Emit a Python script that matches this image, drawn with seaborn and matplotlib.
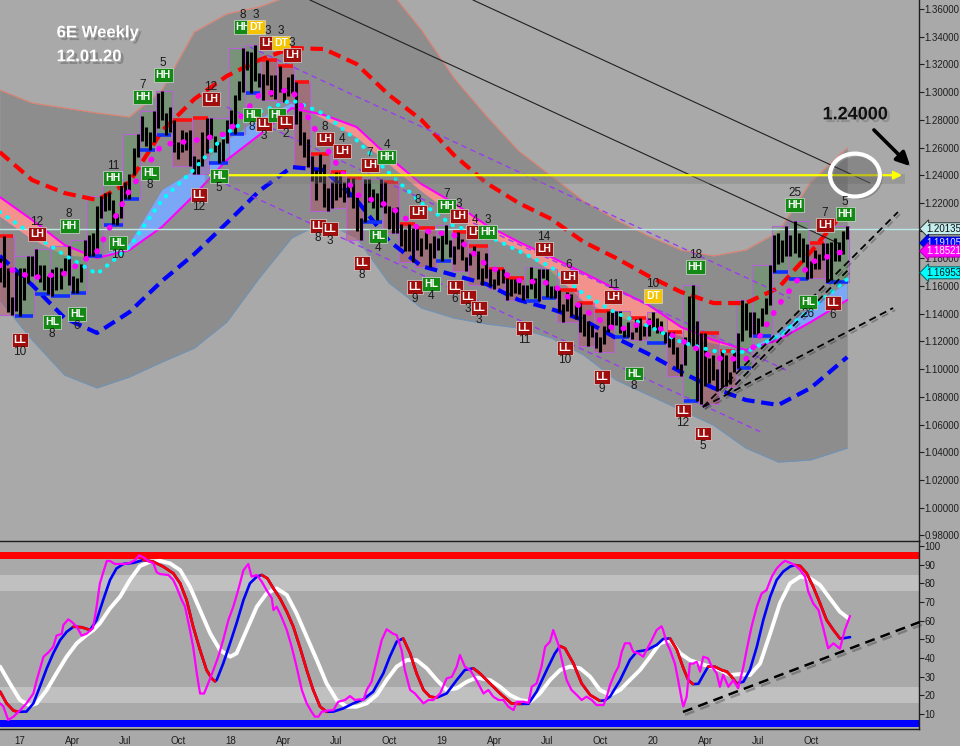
import numpy as np
import matplotlib
matplotlib.use("Agg")
import matplotlib.pyplot as plt
import matplotlib.patheffects as pe
from matplotlib.patches import Ellipse, Rectangle
import seaborn as sns

# weekly 6E bars, week 0 = week of 2 Jan 2017
first_week = -5
highs = [1.180, 1.196, 1.173, 1.152, 1.170, 1.173, 1.173, 1.182, 1.182, 1.187,
         1.175, 1.175, 1.167, 1.172, 1.174, 1.173, 1.180, 1.189, 1.167, 1.166,
         1.176, 1.193, 1.197, 1.198, 1.218, 1.225, 1.227, 1.228, 1.222, 1.212,
         1.237, 1.235, 1.241, 1.260, 1.270, 1.283, 1.275, 1.271, 1.286, 1.299,
         1.301, 1.285, 1.289, 1.280, 1.264, 1.273, 1.271, 1.273, 1.254, 1.252,
         1.271, 1.281, 1.281, 1.268, 1.264, 1.266, 1.280, 1.287, 1.298, 1.308,
         1.332, 1.330, 1.329, 1.334, 1.314, 1.313, 1.323, 1.312, 1.312, 1.319,
         1.303, 1.311, 1.313, 1.307, 1.286, 1.271, 1.266, 1.254, 1.244, 1.255,
         1.248, 1.231, 1.235, 1.242, 1.242, 1.235, 1.238, 1.238, 1.224, 1.209,
         1.237, 1.237, 1.230, 1.227, 1.237, 1.235, 1.218, 1.216, 1.217, 1.205,
         1.201, 1.205, 1.202, 1.202, 1.195, 1.199, 1.191, 1.196, 1.195, 1.197,
         1.204, 1.193, 1.189, 1.199, 1.194, 1.181, 1.184, 1.189, 1.185, 1.173,
         1.184, 1.172, 1.165, 1.172, 1.172, 1.166, 1.165, 1.165, 1.165, 1.161,
         1.161, 1.174, 1.166, 1.172, 1.172, 1.172, 1.160, 1.160, 1.157, 1.147,
         1.156, 1.154, 1.146, 1.148, 1.140, 1.135, 1.132, 1.127, 1.123, 1.131,
         1.142, 1.142, 1.142, 1.142, 1.130, 1.134, 1.127, 1.136, 1.137, 1.131,
         1.137, 1.141, 1.137, 1.135, 1.127, 1.127, 1.127, 1.116, 1.104, 1.123,
         1.153, 1.161, 1.135, 1.126, 1.126, 1.108, 1.110, 1.100, 1.113, 1.110,
         1.098, 1.112, 1.126, 1.150, 1.148, 1.141, 1.141, 1.137, 1.144, 1.151,
         1.175, 1.197, 1.198, 1.193, 1.203, 1.197, 1.207, 1.198, 1.195, 1.190,
         1.178, 1.186, 1.183, 1.191, 1.191, 1.192, 1.195, 1.192, 1.200, 1.203]
lows = [1.163, 1.159, 1.141, 1.139, 1.142, 1.138, 1.150, 1.162, 1.167, 1.166,
        1.163, 1.157, 1.154, 1.153, 1.157, 1.158, 1.171, 1.161, 1.155, 1.155,
        1.163, 1.180, 1.182, 1.182, 1.184, 1.209, 1.214, 1.215, 1.205, 1.204,
        1.209, 1.223, 1.223, 1.240, 1.253, 1.265, 1.261, 1.258, 1.264, 1.274,
        1.280, 1.269, 1.271, 1.257, 1.252, 1.257, 1.258, 1.247, 1.241, 1.241,
        1.247, 1.256, 1.267, 1.257, 1.249, 1.250, 1.263, 1.277, 1.270, 1.294,
        1.300, 1.316, 1.299, 1.308, 1.304, 1.294, 1.305, 1.297, 1.295, 1.300,
        1.293, 1.297, 1.299, 1.277, 1.262, 1.253, 1.246, 1.236, 1.222, 1.235,
        1.217, 1.214, 1.216, 1.222, 1.224, 1.221, 1.224, 1.216, 1.200, 1.193,
        1.206, 1.221, 1.216, 1.208, 1.217, 1.213, 1.201, 1.198, 1.198, 1.189,
        1.185, 1.185, 1.177, 1.186, 1.182, 1.187, 1.174, 1.180, 1.186, 1.178,
        1.190, 1.181, 1.176, 1.187, 1.179, 1.171, 1.175, 1.183, 1.165, 1.161,
        1.166, 1.160, 1.158, 1.161, 1.162, 1.150, 1.153, 1.155, 1.154, 1.150,
        1.151, 1.158, 1.151, 1.149, 1.166, 1.152, 1.151, 1.151, 1.141, 1.134,
        1.142, 1.138, 1.136, 1.127, 1.124, 1.117, 1.123, 1.115, 1.112, 1.118,
        1.127, 1.132, 1.132, 1.126, 1.123, 1.123, 1.122, 1.127, 1.121, 1.124,
        1.124, 1.130, 1.126, 1.126, 1.119, 1.116, 1.111, 1.100, 1.095, 1.103,
        1.118, 1.117, 1.077, 1.075, 1.088, 1.090, 1.092, 1.084, 1.087, 1.088,
        1.089, 1.098, 1.101, 1.120, 1.128, 1.123, 1.125, 1.124, 1.131, 1.140,
        1.146, 1.170, 1.176, 1.177, 1.182, 1.182, 1.184, 1.181, 1.177, 1.165,
        1.166, 1.172, 1.172, 1.179, 1.163, 1.164, 1.178, 1.178, 1.183, 1.194]

# indicator curves read every 8 weeks
grid_weeks = [-5, 3, 11, 19, 27, 35, 43, 51, 59, 67, 75, 83, 91, 99, 107, 115,
              123, 131, 139, 147, 155, 163, 171, 179, 187, 195, 204]
red_env = [1.2567, 1.2365, 1.2271, 1.2221, 1.2351, 1.2719, 1.2950, 1.3116, 1.3232,
           1.3318, 1.3311, 1.3203, 1.2979, 1.2799, 1.2546, 1.2344, 1.2199, 1.2084,
           1.1918, 1.1802, 1.1672, 1.1557, 1.1477, 1.1477, 1.1586, 1.1846, 1.2163]
blue_env = [1.1817, 1.1607, 1.1369, 1.1261, 1.1412, 1.1636, 1.1831, 1.2055, 1.2286,
            1.2459, 1.2437, 1.2221, 1.1925, 1.1744, 1.1679, 1.1614, 1.1499, 1.1434,
            1.1354, 1.1225, 1.1109, 1.0979, 1.0864, 1.0777, 1.0741, 1.0864, 1.1087]
band_top = [1.3015, 1.2921, 1.2885, 1.2849, 1.2820, 1.3015, 1.3434, 1.3564, 1.3614,
            1.3701, 1.3954, 1.3954, 1.3737, 1.3448, 1.3102, 1.2827, 1.2575, 1.2394,
            1.2214, 1.2077, 1.1961, 1.1860, 1.1817, 1.1860, 1.1990, 1.2351, 1.2596]
band_bot = [1.1499, 1.1210, 1.0957, 1.0864, 1.0943, 1.1051, 1.1152, 1.1340, 1.1658,
            1.1947, 1.2062, 1.1947, 1.1622, 1.1441, 1.1369, 1.1326, 1.1297, 1.1225,
            1.1102, 1.0921, 1.0813, 1.0705, 1.0596, 1.0430, 1.0329, 1.0344, 1.0430]
slow_ma = [1.2243, 1.2077, 1.1896, 1.1802, 1.1860, 1.2026, 1.2257, 1.2510, 1.2690,
           1.2885, 1.2835, 1.2748, 1.2531, 1.2336, 1.2199, 1.2040, 1.1918, 1.1809,
           1.1694, 1.1578, 1.1463, 1.1304, 1.1210, 1.1138, 1.1210, 1.1340, 1.1499]
fast_ma = [1.2098, 1.1932, 1.1817, 1.1802, 1.1910, 1.2293, 1.2438, 1.2654, 1.2813,
           1.2921, 1.2800, 1.2669, 1.2474, 1.2279, 1.2105, 1.1954, 1.1860, 1.1701,
           1.1484, 1.1376, 1.1304, 1.1232, 1.1181, 1.1138, 1.1261, 1.1456, 1.1622]
cyan_ma = [1.2134, 1.1975, 1.1824, 1.1687, 1.1882, 1.2221, 1.2445, 1.2705, 1.2856,
           1.2943, 1.2842, 1.2654, 1.2416, 1.2199, 1.2033, 1.1968, 1.1853, 1.1737,
           1.1542, 1.1405, 1.1311, 1.1196, 1.1131, 1.1123, 1.1239, 1.1434, 1.1650]
dot_ma = [1.175, 1.166, 1.169, 1.185, 1.229, 1.262, 1.265, 1.270, 1.298, 1.302,
          1.262, 1.226, 1.218, 1.200, 1.197, 1.175, 1.164, 1.162, 1.143, 1.128,
          1.134, 1.121, 1.108, 1.107, 1.146, 1.177, 1.186]

# swing boxes (start weeks)
box_starts = [-5, -1, 4, 8, 13, 17, 21, 26, 30, 34, 38, 43, 47, 52, 56, 60, 64, 68,
              72, 77, 81, 85, 90, 94, 98, 103, 107, 111, 116, 120, 125, 129, 133,
              138, 142, 147, 151, 155, 160, 164, 168, 173, 177, 181, 186, 190, 195,
              199, 205]

# swing labels
lab_week = [4.2, 12.1, 0.0, 7.9, 14.1, 22.9, 24.2, 30.3, 32.1, 35.3, 47.1, 44.1, 49.1,
            55.0, 58.2, 61.2, 64.4, 67.1, 57.2, 60.2, 63.4, 65.4, 75.2, 79.4, 86.3,
            90.5, 73.5, 76.4, 88.3, 84.3, 98.2, 105.3, 108.3, 112.2, 115.4, 97.4,
            101.4, 107.3, 110.5, 113.2, 124.3, 129.2, 135.4, 134.4, 143.5, 146.2,
            156.1, 151.4, 163.5, 168.4, 166.5, 194.3, 200.5, 191.1, 198.5, 203.5]
lab_price = [1.1975, 1.2033, 1.1210, 1.1340, 1.1398, 1.2380, 1.1910, 1.2965, 1.2416,
             1.3123, 1.2950, 1.2257, 1.2394, 1.3470, 1.3470, 1.3355, 1.3355, 1.3268,
             1.2835, 1.2770, 1.2835, 1.2784, 1.2661, 1.2575, 1.2474, 1.2531, 1.2033,
             1.2012, 1.1961, 1.1766, 1.2134, 1.2178, 1.2105, 1.1990, 1.1990, 1.1593,
             1.1614, 1.1593, 1.1521, 1.1441, 1.1297, 1.1867, 1.1665, 1.1152, 1.0943,
             1.1521, 1.1528, 1.0968, 1.0701, 1.0535, 1.1737, 1.1484, 1.1477, 1.2185,
             1.2040, 1.2120]
lab_text = ['LH', 'HH', 'LL', 'HL', 'HL', 'HH', 'HL', 'HH', 'HL', 'HH', 'LH', 'LL', 'HL',
            'HH', 'DT', 'LH', 'DT', 'LH', 'HL', 'LL', 'HL', 'LL', 'LH', 'LH', 'LH',
            'HH', 'LL', 'LL', 'HL', 'LL', 'LH', 'HH', 'LH', 'LH', 'HH', 'LL',
            'HL', 'LL', 'LL', 'LL', 'LL', 'LH', 'LH', 'LL', 'LL', 'LH',
            'DT', 'HL', 'LL', 'LL', 'HH', 'HL', 'LL', 'HH', 'LH', 'HH']
lab_count = ['12', '8', '10', '8', '6', '11', '10', '7', '8', '5', '12', '12', '5',
             '8', '3', '3', '3', '3', '8', '3', '', '2', '8', '4', '7',
             '4', '8', '3', '4', '8', '8', '7', '3', '4', '3', '9',
             '4', '6', '3', '3', '11', '14', '6', '10', '9', '11',
             '10', '8', '12', '5', '18', '26', '6', '25', '7', '5']
lab_side = ['a', 'a', 'b', 'b', 'b', 'a', 'b', 'a', 'b', 'a', 'a', 'b', 'b',
            'a', 'a', 'a', 'a', 'a', 'b', 'b', 'b', 'b', 'a', 'a', 'a',
            'a', 'b', 'b', 'b', 'b', 'a', 'a', 'a', 'a', 'a', 'b',
            'b', 'b', 'b', 'b', 'b', 'a', 'a', 'b', 'b', 'a',
            'a', 'b', 'b', 'b', 'a', 'b', 'b', 'a', 'a', 'a']

# drawn trend lines (week, price)
line_a = ([111.7, 209.6], [1.3665, 1.2344])
line_b = ([71.5, 201.7], [1.3665, 1.1910])
purple_lines = [([56.7, 189.9], [1.3326, 1.1513]),
                ([51.0, 189.9], [1.2892, 1.0979]),
                ([48.6, 183.2], [1.2365, 1.0539])]
fan_lines = [([168.4, 216.5], [1.0726, 1.2134]),
             ([168.4, 215.3], [1.0726, 1.1441]),
             ([174.4, 204.7], [1.0827, 1.1730])]
target_price = 1.24
last_price = 1.20135
tag_values = [1.20135, 1.19105, 1.18521, 1.16953]

# oscillator (lower panel)
fast_wk = [-4.9, -4.1, -2.9, -1.6, 0, 1.6, 3.3, 4.1, 5.8, 7, 8.2, 9, 10.3, 10.7, 11.9, 12.7,
           14, 15.2, 16.4, 18, 18.9, 19.7, 21.4, 22.2, 23.4, 25.9, 27.1, 28.4, 29.4, 30.4,
           31.6, 32.9, 33.7, 34.5, 36.6, 37.8, 38.6, 39.9, 40.7, 41.9, 42.7, 43.6, 44.4,
           45.4, 46.4, 47.7, 48.9, 50.1, 51.4, 52.6, 53.8, 55.1, 56.3, 57.1, 58.4, 59.6,
           60.8, 62.1, 62.5, 63.3, 64.5, 65.8, 67, 68.2, 69.5, 70.7, 71.9, 72.7, 73.6,
           74.4, 75.6, 77.3, 78.5, 80.1, 81.4, 82.6, 83.8, 84.7, 85.5, 86.7, 88, 89.2,
           90.4, 92.1, 92.9, 94.1, 94.9, 96.2, 97.4, 99.5, 100.7, 101.9, 103.6, 105.2,
           106.5, 107.7, 108.5, 109.7, 111, 112.6, 114.3, 115.5, 116.7, 118, 119.2,
           120.4, 121.7, 122.5, 124.1, 125.4, 126.2, 127.4, 128.6, 129.5, 130.7, 131.5,
           132.8, 134, 134.8, 136, 137.3, 138.5, 139.7, 141, 142.2, 143.9, 144.7, 145.5,
           146.7, 147.6, 148.4, 149.2, 150.4, 151.2, 152.5, 153.7, 154.5, 155.8, 157,
           158.2, 158.6, 159.5, 160.3, 161.5, 162.3, 163.2, 163.6, 164.4, 165.2, 166,
           166.9, 167.7, 168.5, 169.7, 170.6, 171.8, 172.6, 173.4, 174.7, 175.9, 177.1,
           178.4, 179.2, 180.4, 181.7, 182.9, 184.1, 185.4, 186.6, 187.8, 188.7, 189.9,
           191.1, 192.4, 193.6, 194.4, 195.6, 196.9, 198.1, 199.3, 200.6, 202.2, 203.4,
           204.7]
fast_val = [15.7, 14, 6.8, 8.6, 12, 15.7, 21, 28, 40.7, 43, 46, 52, 53, 57.7, 60.7, 59.5,
            56.8, 52, 53, 56, 67.5, 80, 92, 92, 90.4, 90.4, 91, 92.5, 95, 94,
            92, 90.7, 86, 85, 84.5, 81.8, 78, 71, 67.5, 55, 46, 31.8, 21,
            21, 26.4, 33.6, 40.7, 49.6, 60.4, 67.5, 76.4, 87, 90.4, 83.6, 84.5, 81,
            76.4, 72, 65.7, 67.5, 62, 55, 46, 35.4, 22.9, 15.7, 11.2, 8.6, 8.6,
            11.2, 11.8, 12.1, 16.6, 17.5, 19.6, 17.5, 17.9, 17.5, 22.9, 27.3, 39, 49.6,
            55.4, 52.9, 52.3, 44.3, 33.6, 22.9, 21, 15.7, 17.5, 17.5, 21, 29,
            30, 35.4, 41.6, 35.4, 33.6, 28, 21, 22.9, 19.3, 17.5, 17.5,
            14, 12.1, 16.6, 16.6, 16, 24.6, 26.4, 35.4, 46, 48.8, 55,
            47, 35.4, 28.2, 22.9, 20.2, 17.5, 19.3, 17.5, 14.8, 14.8, 19.3, 25.5,
            31.8, 35.4, 43.4, 47.9, 47.9, 43.4, 42.5, 40.7, 44.3, 49.6, 55,
            57, 55, 47.9, 44.3, 37, 28.2, 17.5, 14, 19.3, 37, 37,
            38, 32.7, 40.7, 39.8, 35.4, 31.8, 24.6, 31, 24.6, 28.2, 23.8,
            35.4, 44.3, 56.8, 67.5, 74.6, 76.4, 83.6, 88, 90.7, 92.1, 91,
            89.8, 87.1, 83.6, 75.5, 69.3, 65.7, 55.9, 45.2, 47.9, 45, 55,
            62.5]
k_wk = [-4.9, -3.3, -1.6, -0.4, 1.6, 3.3, 4.9, 6.6, 8.2, 9.9, 11.5, 13.2, 15.2, 17.3, 18.9,
        20.5, 22.2, 23.8, 25.5, 28, 30.4, 32.9, 35.3, 37.8, 39.5, 41.1, 42.7, 44.4, 46,
        47.3, 48.1, 48.5, 50.1, 51.8, 53.4, 55.1, 56.7, 58.4, 59.6, 61, 62.5, 64.1, 65.8,
        67.4, 69, 70.7, 72.3, 74, 75.6, 77.3, 79.7, 82.2, 84.7, 87.1, 89.6, 91.2, 92.9,
        94.5, 96.2, 97.8, 99.5, 101.1, 102.8, 105.2, 107.7, 109.7, 111.8, 113.4, 115.9,
        118.4, 121.2, 123.3, 125.4, 127.4, 129.9, 131.9, 133.2, 134.4, 136.5, 138.5,
        140.6, 143, 144.2, 145.5, 148, 150.4, 152.1, 154.5, 157, 158.6, 160.3, 162,
        163.6, 164.8, 166, 167.3, 168.5, 169.7, 171.4, 173, 174.3, 175.5, 176.7, 178.4,
        180, 181.7, 183.3, 185, 186.6, 188.2, 189.9, 191.1, 192.4, 194, 195.6, 197.3,
        198.9, 200.6, 202.2, 203.4, 204.7]
k_val = [22, 15.7, 11.8, 11.2, 11.3, 15.7, 24.6, 34.5, 42.5, 49.6, 54, 56.8, 56.5, 55, 60.4,
         71, 81.8, 88, 90.4, 91, 92.5, 91.6, 89, 85.4, 80, 71, 56.8, 44.3, 33.6,
         29, 27.5, 28.2, 37, 47.9, 58.6, 71, 80, 83.6, 84.5, 82.7, 77.3, 72, 64.8,
         56.8, 46, 33.6, 22.9, 14, 11.2, 11.3, 13, 15.7, 17.9, 22, 31.8, 40.7, 48.8,
         50.5, 42.5, 31.8, 22.9, 19.3, 18.8, 21, 28.2, 33.6, 34.5, 31.8, 26.4,
         21, 15.7, 15.4, 15.5, 22, 33.6, 42.5, 46.4, 45.2, 37, 26.4,
         20.2, 17.1, 17.3, 19.3, 28.2, 39, 43.4, 44.3, 47, 50.2, 50.5, 44.3,
         34.5, 28.2, 26, 26.2, 30.9, 35.4, 35.3, 33.6, 32.7, 30, 26.4, 27.3,
         33.6, 46, 60.4, 72.9, 81.8, 86.3, 89, 89.8, 89.3, 85.4, 78.2, 69.3,
         60.4, 55, 50.5, 50.7, 51.2]
slow_wk = [-4.9, -2.5, 0, 2.5, 4.1, 6.6, 9, 11.5, 14, 16.4, 18.1, 19.7, 22.2, 24.7, 27.1,
           29.6, 32.1, 34.5, 37, 39.5, 41.9, 44.4, 46.9, 49.3, 51.8, 53.4, 55.9, 58.4,
           60.8, 63.3, 65.8, 68.2, 70.7, 73.2, 75.6, 78.1, 80.6, 83, 85.5, 88, 90.4,
           92.9, 95.4, 97.8, 100.3, 102.8, 105.2, 107.7, 110.2, 112.6, 115.9, 118.4,
           120.8, 123.3, 125.8, 128.2, 130.7, 133.2, 135.6, 138.1, 140.6, 143, 145.5,
           148, 150.4, 152.9, 155.4, 157.8, 160.3, 162.8, 165.2, 167.7, 170.2, 172.6,
           175.1, 177.6, 180, 182.5, 185, 187.4, 189.9, 192.4, 194.8, 197.3, 199.7,
           202.2, 204.3]
slow_val = [35.4, 26.4, 17.5, 14.5, 15.7, 22.9, 31.8, 40.7, 47.9, 52.3, 55, 58.6, 66.6, 72.9,
            81.8, 89.3, 91.6, 92.1, 90.7, 87.1, 78.2, 65.7, 53.2, 44.3, 40.7, 42.5, 55,
            67.5, 74.6, 77.3, 73.8, 63.9, 51.4, 38.9, 26.4, 17.5, 13.9, 13.9, 15.7, 20.2,
            28.2, 35.4, 38.9, 38.9, 34.5, 28.2, 22.9, 23.8, 27.3, 29.5, 28.2, 24.6,
            20.2, 17.5, 16.6, 21, 28.2, 33.6, 35.4, 34.5, 30, 22.9, 20.2,
            22.9, 28.2, 33.6, 40.7, 47.9, 49.6, 42.5, 38.9, 37, 35.4, 33.6,
            30.9, 31.4, 30.9, 37, 53.2, 69.3, 80, 83.6, 82.7, 79.1, 72,
            64.8, 61.3]
osc_trend = ([163.5, 221.9], [11.1, 59.3])

tick_weeks = [0, 13, 26, 39, 52, 65, 78, 91, 104, 117, 130, 143, 156, 169, 182, 195]
tick_names = ['17', 'Apr', 'Jul', 'Oct', '18', 'Apr', 'Jul', 'Oct',
              '19', 'Apr', 'Jul', 'Oct', '20', 'Apr', 'Jul', 'Oct']

sns.set_theme(style="white")
plt.rcParams['font.family'] = ['Liberation Sans', 'DejaVu Sans']

bg = '#a9a9a9'
fig = plt.figure(figsize=(9.6, 7.46), dpi=100, facecolor=bg)
ax = fig.add_axes([0, 0.2748, 0.9573, 0.7252], facecolor=bg)
ax2 = fig.add_axes([0, 0.0228, 0.9573, 0.2520], facecolor=bg)

weeks = np.arange(first_week, first_week + len(highs))
hi = np.array(highs)
lo = np.array(lows)
gw = np.array(grid_weeks)

# background band
ax.fill_between(gw, band_bot, band_top, color='#8d8d8d', lw=0, zorder=1)
ax.plot(gw, band_top, color='#e08070', lw=0.8, zorder=1.1)
ax.plot(gw, band_bot, color='#6f93b8', lw=0.8, zorder=1.1)

# moving average cloud
sl = np.array(slow_ma)
fa = np.array(fast_ma)
ax.fill_between(gw, sl, fa, where=fa <= sl, interpolate=True, color='#f3928c', lw=0, zorder=2)
ax.fill_between(gw, sl, fa, where=fa >= sl, interpolate=True, color='#7aa8f6', lw=0, zorder=2)
ax.plot(gw, fa, color='#8a8aa0', lw=0.6, zorder=2.1)

# swing boxes
prev_mid = None
for a, b in zip(box_starts[:-1], box_starts[1:]):
    sel = (weeks >= a) & (weeks < b)
    if not sel.any():
        continue
    blo, bhi = lo[sel].min(), hi[sel].max()
    mid = ((hi[sel] + lo[sel]) / 2).mean()
    up = prev_mid is not None and mid > prev_mid
    prev_mid = mid
    fc = (0.35, 0.62, 0.35, 0.40) if up else (0.73, 0.27, 0.37, 0.40)
    ax.add_patch(Rectangle((a - 0.5, blo), b - a, bhi - blo, fc=fc, ec='#b860d8',
                           lw=0.8, zorder=2.5))
    if up:
        ax.hlines(blo, a - 0.3, b - 0.7, color='#1030ff', lw=2.6, zorder=3.5)
    else:
        ax.hlines(bhi, a - 0.3, b - 0.7, color='#ff1010', lw=2.6, zorder=3.5)

# envelopes
sns.lineplot(x=gw, y=red_env, ax=ax, color='#ff0000', lw=3.0, linestyle=(0, (3, 1.6)),
             estimator=None, sort=False, zorder=3)
sns.lineplot(x=gw, y=blue_env, ax=ax, color='#0000ff', lw=3.0, linestyle=(0, (3, 1.6)),
             estimator=None, sort=False, zorder=3)
sns.lineplot(x=gw, y=slow_ma, ax=ax, color='#ff00ff', lw=1.5, estimator=None, sort=False,
             zorder=3)

# trend lines
for xs, ys in [line_a, line_b]:
    ax.plot(xs, ys, color='#202020', lw=0.8, zorder=3)
for xs, ys in purple_lines:
    ax.plot(xs, ys, color='#9a3cf0', lw=1.0, linestyle=(0, (4, 3)), zorder=3)
for xs, ys in fan_lines:
    ax.plot(xs, ys, color='black', lw=1.3, linestyle=(0, (4, 2.5)), zorder=6,
            path_effects=[pe.SimpleLineShadow(offset=(1.5, -1.5), alpha=0.3), pe.Normal()])

# price bars
ax.vlines(weeks, lo, hi, color='black', lw=2.2, zorder=4)

# dotted averages
sns.lineplot(x=gw, y=cyan_ma, ax=ax, color='#00ffff', lw=3.0, linestyle=(0, (0.1, 2.1)),
             dash_capstyle='round', estimator=None, sort=False, zorder=5)
sns.lineplot(x=gw, y=dot_ma, ax=ax, color='#ff00ff', lw=4.0, linestyle=(0, (0.1, 2.3)),
             dash_capstyle='round', estimator=None, sort=False, zorder=5)

# last price line
ax.axhline(last_price, color='#bde8e8', lw=1.0, zorder=3.2)

# target line with shadow
ax.plot([45.6, 218.2], [target_price - 0.003, target_price - 0.003], color='#7a7a7a',
        lw=7, alpha=0.35, zorder=5.5, solid_capstyle='butt')
ax.annotate('', xy=(218.2, target_price), xytext=(45.6, target_price),
            arrowprops=dict(arrowstyle='<|-|>', color='#ffff00', lw=1.6, mutation_scale=12),
            zorder=6)

# circle and arrow
circ = Ellipse((205.9, 1.2401), width=12.3, height=0.031, fill=False, ec='white', lw=3,
               zorder=7, path_effects=[pe.SimplePatchShadow(offset=(2, -2), alpha=0.35),
                                       pe.Normal()])
ax.add_patch(circ)
arr = ax.annotate('', xy=(220.0, 1.2452), xytext=(210.1, 1.2741),
                  arrowprops=dict(arrowstyle='-|>', color='black', lw=2.6, mutation_scale=20),
                  zorder=7)
arr.arrow_patch.set_path_effects([pe.SimplePatchShadow(offset=(2, -2), alpha=0.35), pe.Normal()])
ax.text(206.0, 1.2836, '1.24000', fontsize=13, fontweight='bold', color='#111111',
        ha='center', va='center', zorder=7,
        path_effects=[pe.withSimplePatchShadow(offset=(2, -2), shadow_rgbFace='#666666',
                                               alpha=0.4)])

# swing labels
box_colors = {'LL': '#a00d0d', 'LH': '#a00d0d', 'HH': '#138a13', 'HL': '#138a13',
              'DT': '#f5c400'}
for w, p, t, n, s in zip(lab_week, lab_price, lab_text, lab_count, lab_side):
    ax.text(w, p, t, fontsize=7.5, fontweight='bold', color='white', ha='center',
            va='center', zorder=8,
            bbox=dict(boxstyle='square,pad=0.18', fc=box_colors[t], ec='#d8d8d8', lw=0.5))
    if n:
        dy = 8.8 if s == 'a' else -8.8
        ax.annotate(n, (w, p), xytext=(0, dy), textcoords='offset points', fontsize=8.5,
                    color='#1a1a1a', ha='center', va='center', zorder=8)

# title
for txt, yy in [('6E Weekly', 0.956), ('12.01.20', 0.924)]:
    fig.text(0.059, yy, txt, fontsize=12, fontweight='bold', color='white', ha='left',
             va='center', path_effects=[pe.withSimplePatchShadow(offset=(2, -2),
                                        shadow_rgbFace='#505050', alpha=0.4)])

# price axis (1.20 label sits under the last-price tag)
ax.set_xlim(-4.93, 221.7)
ax.set_ylim(0.9759, 1.3665)
ax.yaxis.tick_right()
yt = np.round(np.arange(0.98, 1.3601, 0.02), 2)
ax.set_yticks(yt)
ax.set_yticklabels(['' if abs(v - 1.20) < 1e-9 else '{:.5f}'.format(v) for v in yt])
ax.tick_params(axis='y', labelsize=7, colors='#1e1e1e', length=3.5, width=0.8, pad=0.5,
               direction='out', right=True, left=False)
ax.set_xticks([])
ax.set_xlabel('')
ax.set_ylabel('')
for side in ['top', 'left', 'bottom']:
    ax.spines[side].set_visible(False)
ax.spines['right'].set_color('#1e1e1e')
ax.spines['right'].set_linewidth(1.0)

# price tags
tag_style = [('#c4eeee', '#101010', '#303030'), ('#0000ff', '#e6e6ff', '#0000aa'),
             ('#ff00ff', '#ffffff', '#aa00aa'), ('#00ffff', '#101010', '#006060')]
for v, (fc, tc, ec) in zip(tag_values, tag_style):
    ax.text(1.0075, v, '{:.5f}'.format(v), transform=ax.get_yaxis_transform(), fontsize=7,
            color=tc, ha='left', va='center', zorder=10, clip_on=False,
            bbox=dict(boxstyle='larrow,pad=0.1', fc=fc, ec=ec, lw=0.7))

# oscillator panel
ax2.axhspan(76, 84.5, color='#c0c0c0', lw=0, zorder=0.5)
ax2.axhspan(16, 24.5, color='#c0c0c0', lw=0, zorder=0.5)
ax2.axhspan(93.3, 96.7, color='#ff0000', lw=0, zorder=0.6)
ax2.axhspan(3.2, 6.9, color='#0000ff', lw=0, zorder=0.6)

sns.lineplot(x=slow_wk, y=slow_val, ax=ax2, color='white', lw=2.8, estimator=None,
             sort=False, zorder=2)
kw = np.array(k_wk)
kv = np.array(k_val)
sns.lineplot(x=kw, y=kv, ax=ax2, color='#0000ff', lw=1.9, estimator=None, sort=False,
             zorder=3)
for j in np.where(np.diff(kv) < 0)[0]:
    ax2.plot(kw[j:j + 2], kv[j:j + 2], color='#ff0000', lw=1.9, solid_capstyle='round',
             zorder=3.1)
sns.lineplot(x=fast_wk, y=fast_val, ax=ax2, color='#ff00ff', lw=1.6, estimator=None,
             sort=False, zorder=4)
ax2.plot(osc_trend[0], osc_trend[1], color='black', lw=1.8, linestyle=(0, (4, 2.5)),
         zorder=5, clip_on=False,
         path_effects=[pe.SimpleLineShadow(offset=(1.5, -2), alpha=0.3), pe.Normal()])

ax2.set_xlim(-4.93, 221.7)
ax2.set_ylim(1.98, 102.7)
ax2.yaxis.tick_right()
ax2.set_yticks(range(10, 101, 10))
ax2.tick_params(axis='y', labelsize=7, colors='#1e1e1e', length=3.5, width=0.8, pad=0.5,
                direction='out', right=True, left=False)
ax2.set_xticks(tick_weeks)
ax2.set_xticklabels(tick_names)
ax2.tick_params(axis='x', labelsize=7, colors='#1e1e1e', length=0, pad=5)
ax2.set_xlabel('')
ax2.set_ylabel('')
ax2.spines['left'].set_visible(False)
for side in ['top', 'right', 'bottom']:
    ax2.spines[side].set_color('#1e1e1e')
    ax2.spines[side].set_linewidth(1.0)

fig.savefig('out.png', dpi=100, facecolor=bg)
